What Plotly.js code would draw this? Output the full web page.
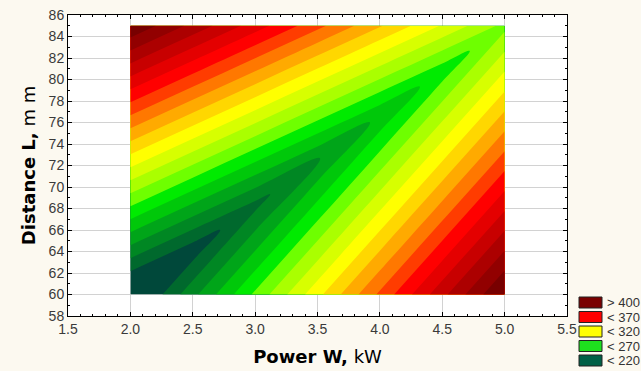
<!DOCTYPE html>
<html><head><meta charset="utf-8">
<script src="https://cdn.plot.ly/plotly-3.0.1.min.js"></script>
<style>html,body{margin:0;padding:0;background:#fcf9f0;}#chart{width:641px;height:371px;}</style>
</head><body><div id="chart"></div>
<script>
// Power W (kW) positions where values were read
const powerW = [2.0, 2.5, 3.0, 3.5, 4.0, 4.5, 5.0];
// Distance L (mm) of the valley line (lowest values) at each power
const valleyL = [60, 64.17, 68.33, 72.5, 76.67, 80.83, 85];
const bottomL = 60, topL = 85;
// Response read along the bottom edge (L = 60), along the valley, and along the top edge (L = 85)
const zBottom = [202, 237, 272, 307, 342, 377, 412];
const zValley = [202, 214.5, 227, 239.5, 252, 264.5, 277];
const zTop    = [409, 387, 365, 343, 321, 299, 277];
// contour levels (lowest level, highest level, step)
const levelStart = 220, levelEnd = 400, levelStep = 10;
const legendLabels = ['> 400', '< 370', '< 320', '< 270', '< 220'];

// styles
const legendColors = ['#7a0000', '#ff0000', '#ffff00', '#1ee01e', '#006046'];
const bandColors = [
  'rgb(0,72,58)', 'rgb(0,105,45)', 'rgb(0,135,35)', 'rgb(0,165,25)', 'rgb(0,200,10)',
  'rgb(0,235,0)', 'rgb(110,255,0)', 'rgb(170,255,0)', 'rgb(215,255,0)', 'rgb(255,255,0)',
  'rgb(255,215,0)', 'rgb(255,170,0)', 'rgb(255,120,0)', 'rgb(255,60,0)', 'rgb(255,0,0)',
  'rgb(228,0,0)', 'rgb(200,0,0)', 'rgb(172,0,0)', 'rgb(146,0,0)', 'rgb(120,0,0)'
];
const colorscale = bandColors.map((c, i) => [i / (bandColors.length - 1), c]);

const M = {l: 68, r: 74, t: 15, b: 55};
const W = 641, H = 371;
const pw = W - M.l - M.r, ph = H - M.t - M.b;
const px2x = p => (p - M.l) / pw;
const py2y = p => (H - M.b - p) / ph;
const esc = s => s.replace(/</g, '&lt;').replace(/>/g, '&gt;');

// carpet grid: rows = bottom edge, valley line, top edge
const bIdx = [0, 1, 2];
const gridX = [powerW, powerW, powerW];
const gridY = [powerW.map(() => bottomL), valleyL, powerW.map(() => topL)];
const gridZ = [zBottom, zValley, zTop];

const hiddenAxis = {smoothing: 0, showgrid: false, showline: false, showticklabels: 'none',
  startline: false, endline: false, minorgridcount: 0};

const carpet = {
  type: 'carpet', carpet: 'grid', a: powerW, b: bIdx, x: gridX, y: gridY,
  aaxis: hiddenAxis, baxis: hiddenAxis, hoverinfo: 'skip'
};
const fill = {
  type: 'contourcarpet', carpet: 'grid', a: powerW, b: bIdx, z: gridZ,
  autocontour: false,
  contours: {start: levelStart, end: levelEnd, size: levelStep, coloring: 'fill', showlines: false},
  line: {width: 0},
  colorscale: colorscale,
  showscale: false, hoverinfo: 'skip'
};

const shapes = [], annotations = [];
legendLabels.forEach((lab, k) => {
  const top = 297 + k * 14.5;
  shapes.push({type: 'rect', xref: 'paper', yref: 'paper',
    x0: px2x(579), x1: px2x(602), y0: py2y(top + 11), y1: py2y(top),
    fillcolor: legendColors[k], line: {color: '#222', width: 1}});
  annotations.push({xref: 'paper', yref: 'paper', x: px2x(605), y: py2y(top + 5.5),
    xanchor: 'left', yanchor: 'middle', showarrow: false, text: esc(lab),
    font: {family: 'Liberation Sans, Arial', size: 13, color: '#333'}});
});

const axisCommon = {
  showline: true, linecolor: '#000', linewidth: 1, mirror: 'ticks',
  ticks: 'inside', ticklen: 4, tickcolor: '#000',
  showgrid: true, gridcolor: '#d2d2d2', gridwidth: 1, zeroline: false,
  tickfont: {family: 'Liberation Sans, Arial', size: 14, color: '#3a3a3a'}
};
const layout = {
  width: W, height: H, margin: M,
  paper_bgcolor: '#fcf9f0', plot_bgcolor: '#ffffff',
  showlegend: false,
  xaxis: Object.assign({}, axisCommon, {
    range: [1.5, 5.5], dtick: 0.5, tick0: 1.5, tickformat: '.1f',
    minor: {dtick: 0.1, ticks: 'inside', ticklen: 2, tickcolor: '#000', showgrid: false},
    title: {text: '<b>Power W,</b> kW', standoff: 14,
      font: {family: 'DejaVu Sans', size: 18, color: '#000'}}
  }),
  yaxis: Object.assign({}, axisCommon, {
    range: [58, 86], dtick: 2, tick0: 58,
    minor: {dtick: 1, ticks: 'inside', ticklen: 2, tickcolor: '#000', showgrid: false},
    title: {text: '<b>Distance L,</b> m m', standoff: 8,
      font: {family: 'DejaVu Sans', size: 18, color: '#000'}}
  }),
  shapes: shapes, annotations: annotations
};
Plotly.newPlot('chart', [carpet, fill], layout, {displayModeBar: false, staticPlot: true});
</script></body></html>
